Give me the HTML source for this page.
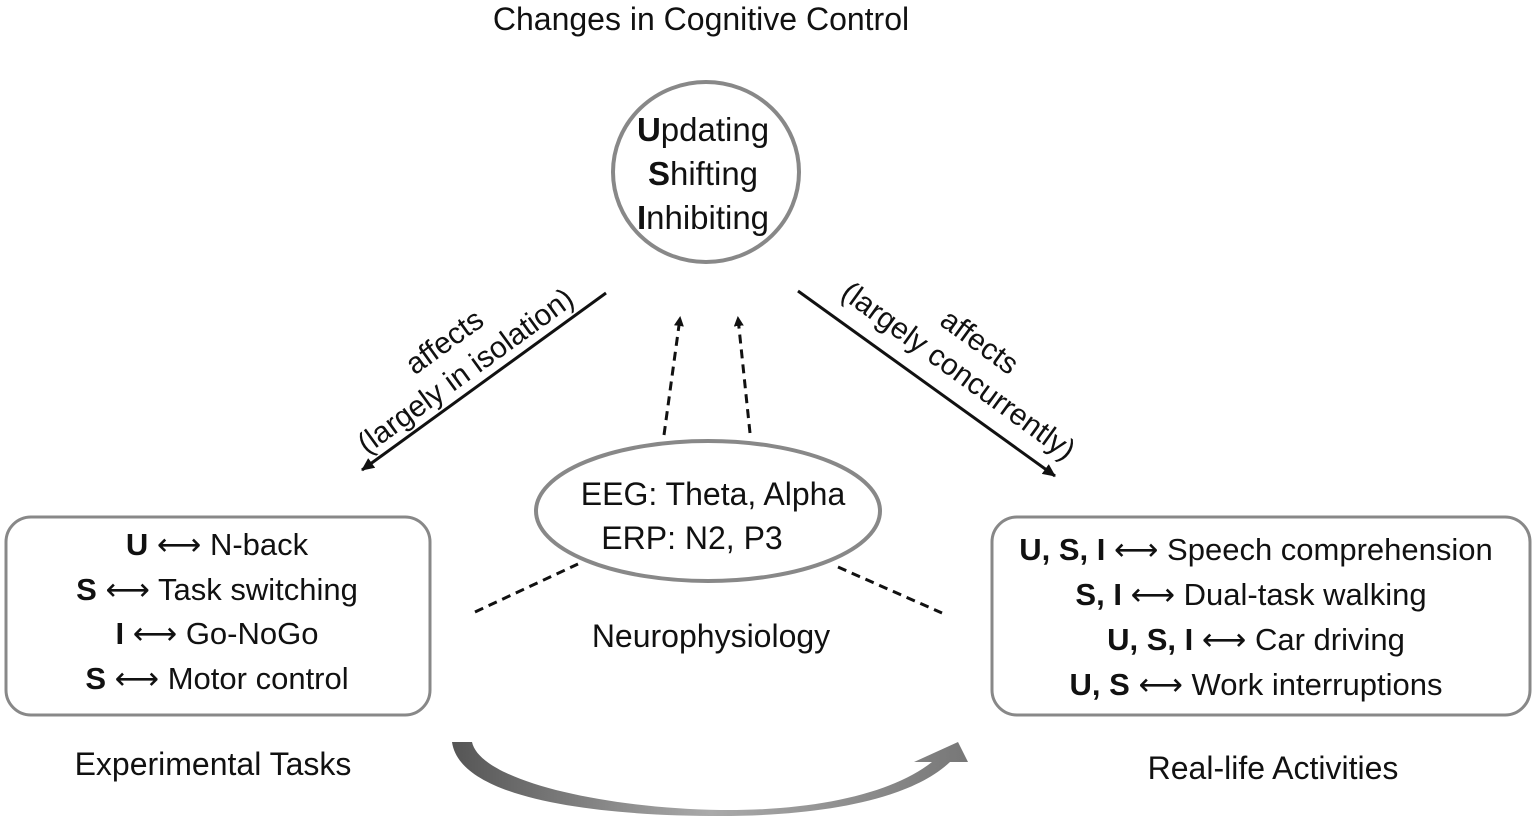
<!DOCTYPE html>
<html><head><meta charset="utf-8"><style>
html,body{margin:0;padding:0;background:#fff;}
svg{display:block;font-family:"Liberation Sans",sans-serif;}
text{fill:#111;}
.ar{font-family:"DejaVu Sans",sans-serif;font-weight:normal;}
</style></head><body>
<svg width="1535" height="819" viewBox="0 0 1535 819">
<defs>
<marker id="ah" markerWidth="10" markerHeight="10" refX="8" refY="5" orient="auto" markerUnits="userSpaceOnUse"><path d="M0,0 L10,5 L0,10 z" fill="#111"/></marker>
<marker id="ah2" markerWidth="14" markerHeight="14" refX="12" refY="7" orient="auto" markerUnits="userSpaceOnUse"><path d="M0,1 L13,7 L0,13 z" fill="#111"/></marker>
<linearGradient id="g" x1="0" x2="1"><stop offset="0" stop-color="#555"/><stop offset="0.5" stop-color="#aaa"/><stop offset="1" stop-color="#777"/></linearGradient>
</defs>
<text x="701" y="30" font-size="32" text-anchor="middle">Changes in Cognitive Control</text>
<ellipse cx="706" cy="172" rx="93" ry="90" fill="none" stroke="#888" stroke-width="4"/>
<text x="703" y="141" font-size="33" text-anchor="middle"><tspan font-weight="bold">U</tspan>pdating</text>
<text x="703" y="185" font-size="33" text-anchor="middle"><tspan font-weight="bold">S</tspan>hifting</text>
<text x="703" y="229" font-size="33" text-anchor="middle"><tspan font-weight="bold">I</tspan>nhibiting</text>

<line x1="606" y1="293" x2="362" y2="470" stroke="#111" stroke-width="3" marker-end="url(#ah2)"/>
<line x1="798" y1="291" x2="1055" y2="476" stroke="#111" stroke-width="3" marker-end="url(#ah2)"/>
<g transform="translate(462,366) rotate(-36)" font-size="30" text-anchor="middle">
<text x="0" y="-20">affects</text><text x="0" y="16">(largely in isolation)</text></g>
<g transform="translate(962,366) rotate(36)" font-size="30" text-anchor="middle">
<text x="0" y="-20">affects</text><text x="0" y="16">(largely concurrently)</text></g>

<line x1="664" y1="435" x2="680" y2="318" stroke="#111" stroke-width="3" stroke-dasharray="9,6" marker-end="url(#ah)"/>
<line x1="750" y1="433" x2="738" y2="318" stroke="#111" stroke-width="3" stroke-dasharray="9,6" marker-end="url(#ah)"/>

<ellipse cx="708" cy="511" rx="172" ry="70" fill="#fff" stroke="#888" stroke-width="4"/>
<text x="713" y="505" font-size="32" text-anchor="middle">EEG: Theta, Alpha</text>
<text x="692" y="549" font-size="32" text-anchor="middle">ERP: N2, P3</text>
<line x1="475" y1="612" x2="578" y2="564" stroke="#111" stroke-width="3" stroke-dasharray="9,6"/>
<line x1="838" y1="567" x2="942" y2="613" stroke="#111" stroke-width="3" stroke-dasharray="9,6"/>
<text x="711" y="647" font-size="32" text-anchor="middle">Neurophysiology</text>

<rect x="6" y="517" width="424" height="198" rx="25" fill="none" stroke="#888" stroke-width="3"/>
<g font-size="31" text-anchor="middle">
<text x="217" y="555"><tspan font-weight="bold">U</tspan> <tspan class="ar">⟷</tspan> N-back</text>
<text x="217" y="600"><tspan font-weight="bold">S</tspan> <tspan class="ar">⟷</tspan> Task switching</text>
<text x="217" y="644"><tspan font-weight="bold">I</tspan> <tspan class="ar">⟷</tspan> Go-NoGo</text>
<text x="217" y="689"><tspan font-weight="bold">S</tspan> <tspan class="ar">⟷</tspan> Motor control</text>
</g>
<text x="213" y="775" font-size="32" text-anchor="middle">Experimental Tasks</text>

<rect x="992" y="517" width="538" height="198" rx="25" fill="none" stroke="#888" stroke-width="3"/>
<g font-size="31" text-anchor="middle">
<text x="1256" y="560"><tspan font-weight="bold">U, S, I</tspan> <tspan class="ar">⟷</tspan> Speech comprehension</text>
<text x="1251" y="605"><tspan font-weight="bold">S, I</tspan> <tspan class="ar">⟷</tspan> Dual-task walking</text>
<text x="1256" y="650"><tspan font-weight="bold">U, S, I</tspan> <tspan class="ar">⟷</tspan> Car driving</text>
<text x="1256" y="695"><tspan font-weight="bold">U, S</tspan> <tspan class="ar">⟷</tspan> Work interruptions</text>
</g>
<text x="1273" y="779" font-size="32" text-anchor="middle">Real-life Activities</text>

<path d="M452,742 L472,742 C480,780 600,808 720,810 C810,811 890,795 932,762 L914,762 L958,742 L968,762 L950,762 C910,800 820,816 720,816 C600,816 460,800 452,742 Z" fill="url(#g)"/>
</svg>
</body></html>
